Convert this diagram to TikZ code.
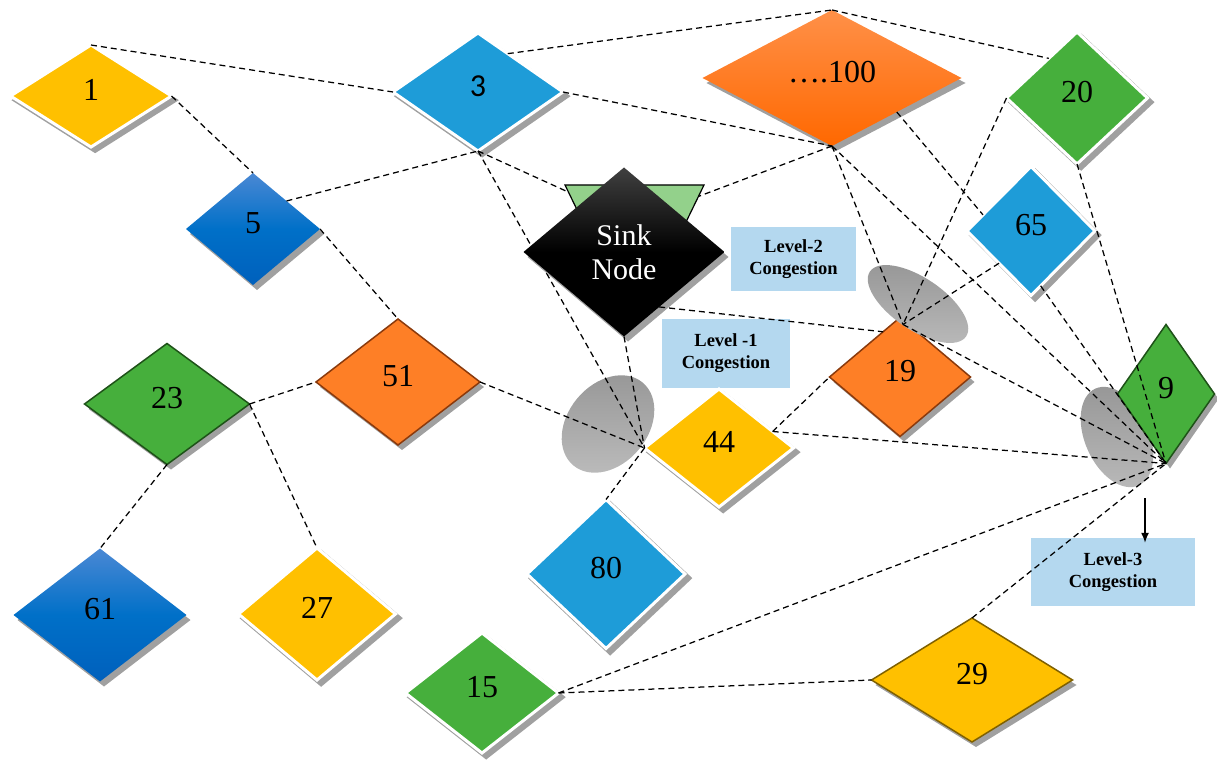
\documentclass[tikz,border=0pt]{standalone}
\usepackage{fontspec}
\setmainfont{Liberation Serif}
\newfontfamily\calib{Carlito}
\usetikzlibrary{shapes.geometric,shadows,calc,arrows.meta}
\definecolor{yel}{HTML}{FFC000}
\definecolor{yelb}{HTML}{7F6000}
\definecolor{sky}{HTML}{1E9CD8}
\definecolor{grn}{HTML}{46AF3C}
\definecolor{grnb}{HTML}{1E5218}
\definecolor{org}{HTML}{FE7F26}
\definecolor{orgb}{HTML}{8B3A0C}
\definecolor{oa}{HTML}{FF9048}
\definecolor{ob}{HTML}{FF6800}
\definecolor{ba}{HTML}{4A88D4}
\definecolor{bb}{HTML}{0070C8}
\definecolor{bc}{HTML}{0060BC}
\definecolor{shadowc}{HTML}{A0A0A0}
\definecolor{lvlc}{HTML}{B4D8EF}
\definecolor{trig}{HTML}{93D18B}
\definecolor{sinktop}{HTML}{404040}
\definecolor{ella}{HTML}{969696}
\definecolor{ellb}{HTML}{BABABA}
\begin{document}
\begin{tikzpicture}[x=1pt,y=-1pt,
  dia/.style={diamond, inner sep=0pt, outer sep=0pt, text depth=12pt,
    font=\fontsize{32}{36}\selectfont},
  shd/.style={general shadow={fill=shadowc, draw=none, shadow xshift=4pt, shadow yshift=-5pt}},
  shdw/.style={general shadow={fill=shadowc, draw=none, shadow scale=1.04, shadow xshift=4pt, shadow yshift=-4pt}},
  wo/.style={draw=white, line width=3pt, shdw},
  bo/.style={line width=1.5pt, shd},
  bgrad/.style={top color=ba, bottom color=bc, middle color=bb},
  ell/.style={ellipse, inner sep=0pt, outer sep=0pt, draw=none, top color=ella, bottom color=ellb},
  lvl/.style={rectangle, fill=lvlc, inner sep=0pt, align=center,
    font=\fontsize{18.5}{22}\selectfont\bfseries},
  con/.style={dash pattern=on 6pt off 4pt, line width=1.25pt}]
\useasboundingbox (0,0) rectangle (1217,762);

% ellipse behind node 9
\node[ell, minimum width=106, minimum height=64, rotate=-66] (e9) at (1117,437) {};

% congestion labels
\node[lvl, minimum width=125, minimum height=64] (L2) at (793.5,259) {Level-2\\Congestion};
\node[lvl, minimum width=128, minimum height=69] (L1) at (726,353.5) {Level -1\\Congestion};
\node[lvl, minimum width=164, minimum height=68] (L3) at (1113,572) {Level-3\\Congestion};

% nodes
\node[dia, wo, fill=yel, minimum width=161, minimum height=102] (n1) at (91,96) {1};
\node[dia, wo, fill=sky, minimum width=170, minimum height=118, font=\calib\fontsize{32}{36}\selectfont] (n3) at (478,92) {3};
\node[dia, shd, top color=oa, bottom color=ob, minimum width=259, minimum height=136] (n100) at (832,78) {….100};
\node[dia, wo, fill=grn, minimum width=141, minimum height=132] (n20) at (1077,98) {20};
\node[dia, wo, fill=sky, minimum width=128, minimum height=129] (n65) at (1031,231) {65};
\node[dia, shd, bgrad, minimum width=134, minimum height=112] (n5) at (253,229) {5};
\node[dia, bo, fill=org, draw=orgb, minimum width=164, minimum height=126] (n51) at (398,382) {51};
\node[dia, bo, fill=grn, draw=grnb, minimum width=165, minimum height=121] (n23) at (167,404) {23};
\node[dia, bo, fill=org, draw=orgb, minimum width=141, minimum height=119] (n19) at (900,377) {19};
\node[dia, bo, fill=grn, draw=grnb, minimum width=97, minimum height=139] (n9) at (1166,394) {9};
\node[dia, wo, fill=yel, minimum width=149, minimum height=118] (n44) at (719,448) {44};
\node[dia, wo, fill=sky, minimum width=158, minimum height=149] (n80) at (606,574) {80};
\node[dia, shd, bgrad, minimum width=173, minimum height=133] (n61) at (100,615) {61};
\node[dia, wo, fill=yel, minimum width=157, minimum height=132] (n27) at (317,614) {27};
\node[dia, wo, fill=grn, minimum width=153, minimum height=120] (n15) at (482,693) {15};
\node[dia, bo, fill=yel, draw=yelb, minimum width=201, minimum height=124] (n29) at (972,680) {29};

% ellipses over nodes
\node[ell, minimum width=116, minimum height=52, rotate=-34] (e19) at (918,304) {};
\node[ell, minimum width=108, minimum height=80, rotate=50] (e44) at (608,424) {};

% helper points
\coordinate (tL) at (565,185);
\coordinate (tR) at (704,185);
\coordinate (tB) at (634.5,328);
\coordinate (h19) at ($(n19.north)+(3,7)$);
\coordinate (p44) at ($(n44.east)!0.28!(n44.north)$);
\coordinate (p3) at ($(n3.north)!0.35!(n3.east)$);
\coordinate (p20) at ($(n20.west)!0.6!(n20.north)$);
\coordinate (p65a) at ($(n65.west)!0.25!(n65.north)$);
\coordinate (p65b) at ($(n65.south)!0.15!(n65.east)$);
\coordinate (p19) at ($(n19.north)!0.24!(n19.west)$);

% connectors
\draw[con] (n1.north) -- (n3.west);
\draw[con] (n1.east) -- (n5.north);
\draw[con] (n5.north east) -- (n3.south);
\draw[con] (n5.east) -- (n51.north);
\draw[con] (n23.east) -- (n51.west);
\draw[con] (n23.east) -- (n27.north);
\draw[con] (n23.south) -- (n61.north);
\draw[con] (n51.east) -- (n44.west);
\draw[con] (n3.south) -- (n44.west);
\draw[con] (n44.west) -- (n80.north);
\draw[con] (n3.south) -- ($(tL)!0.05!(tB)$);
\draw[con] (p3) -- (n100.north);
\draw[con] (n100.north) -- (p20);
\draw[con] (n3.east) -- (n100.south);
\draw[con] (n100.south) -- ($(tR)!0.08!(tB)$);
\draw[con] (n100.south) -- (h19);
\draw[con] (n100.south) -- (n9.south);
\draw[con] (n100.south east) -- (p65a);
\draw[con] (n20.west) -- (h19);
\draw[con] (n20.south) -- (n9.south);
\draw[con] (n65.south west) -- (h19);
\draw[con] (p65b) -- (n9.south);
\draw[con] (h19) -- (n9.south);
\draw[con] (p44) -- (n9.south);
\draw[con] (p44) -- (n19.west);
\draw[con] (n15.east) -- (n9.south);
\draw[con] (n15.east) -- (n29.west);
\draw[con] (n29.north) -- (n9.south);

% sink node
\draw[fill=trig, line width=1.2pt, line join=miter] (tL) -- (tR) -- (tB) -- cycle;
\node[dia, shd, top color=sinktop, bottom color=black, middle color=black,
  minimum width=201, minimum height=169, text=white, align=center, text depth=0pt,
  font=\fontsize{30}{34}\selectfont] (sink) at (624,252) {Sink\\Node};
\coordinate (ps) at ($(sink.east)!0.65!(sink.south)$);
\draw[con] (sink.south) -- (n44.west);
\draw[con] (ps) -- (p19);

% arrow to level-3
\coordinate (a3) at (1145,498);
\draw[-{Latex[length=10pt,width=8pt]}, line width=1.5pt] (a3) -- ($(a3 |- L3.north)+(0,5)$);
\end{tikzpicture}
\end{document}
